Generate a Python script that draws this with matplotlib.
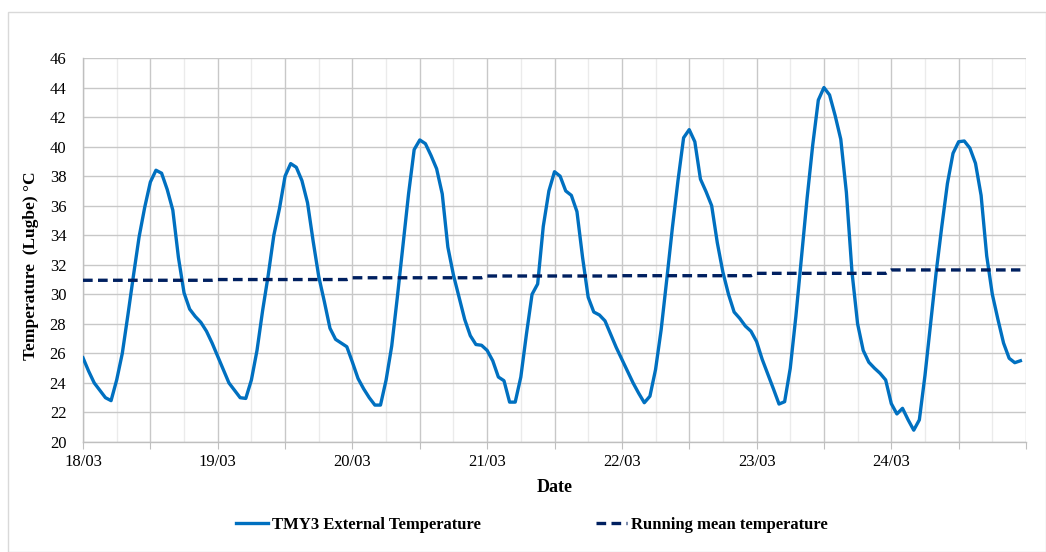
import numpy as np
import matplotlib
matplotlib.use("Agg")
import matplotlib.pyplot as plt
from matplotlib.patches import Rectangle

# ---- data (hourly, starting 18/03 00:00) ----
day_labels = ["18/03", "19/03", "20/03", "21/03", "22/03", "23/03", "24/03"]

tmy3_temp = [
    # 18/03
    25.7, 24.8, 24.0, 23.5, 23.0, 22.8, 24.2, 26.0, 28.6, 31.3, 33.9, 35.9,
    37.6, 38.4, 38.2, 37.1, 35.7, 32.5, 30.1, 29.0, 28.5, 28.1, 27.5, 26.7,
    # 19/03
    25.8, 24.9, 24.0, 23.5, 23.0, 22.95, 24.2, 26.2, 28.9, 31.3, 34.0, 35.8,
    38.0, 38.85, 38.6, 37.7, 36.2, 33.6, 31.2, 29.5, 27.7, 26.95, 26.7, 26.45,
    # 20/03
    25.4, 24.3, 23.6, 23.0, 22.5, 22.5, 24.2, 26.5, 29.8, 33.3, 36.8, 39.8,
    40.45, 40.2, 39.4, 38.5, 36.8, 33.2, 31.3, 29.8, 28.3, 27.2, 26.6, 26.55,
    # 21/03
    26.2, 25.5, 24.4, 24.15, 22.7, 22.7, 24.4, 27.3, 30.0, 30.7, 34.6, 37.0,
    38.3, 38.0, 37.0, 36.7, 35.6, 32.5, 29.8, 28.8, 28.6, 28.2, 27.3, 26.4,
    # 22/03
    25.6, 24.8, 24.0, 23.3, 22.66, 23.1, 24.9, 27.6, 31.0, 34.5, 37.7, 40.6,
    41.15, 40.33, 37.8, 36.95, 36.0, 33.5, 31.5, 30.0, 28.8, 28.37, 27.85, 27.5,
    # 23/03
    26.8, 25.6, 24.6, 23.6, 22.57, 22.73, 24.99, 28.5, 32.5, 36.5, 40.1, 43.15,
    44.0, 43.5, 42.1, 40.5, 36.9, 31.5, 28.0, 26.2, 25.4, 25.0, 24.65, 24.2,
    # 24/03
    22.6, 21.9, 22.28, 21.5, 20.8, 21.5, 24.5, 28.0, 31.5, 34.6, 37.5, 39.55,
    40.33, 40.38, 39.9, 38.87, 36.7, 32.6, 30.0, 28.3, 26.7, 25.67, 25.37, 25.5,
]

daily_running_mean = [30.95, 31.0, 31.12, 31.24, 31.26, 31.42, 31.65]

hours = np.arange(len(tmy3_temp))
running_mean = np.repeat(daily_running_mean, 24)

# ---- figure ----
plt.rcParams['font.family'] = ['Liberation Serif', 'DejaVu Serif']
fig = plt.figure(figsize=(10.46, 5.52), dpi=100)
W, H = 1046, 552
ax = fig.add_axes([83 / W, 1 - 442 / H, (1026 - 83) / W, (442 - 58) / H])

# outer chart border
fig.patches.append(Rectangle((8 / W, 0.0 / H), (1046 - 8) / W, (552 - 12) / H,
                             transform=fig.transFigure, fill=False,
                             edgecolor='#D9D9D9', linewidth=1.0))

blue = '#0070C0'
navy = '#002060'

ax.plot(hours, tmy3_temp, color=blue, linewidth=2.4, solid_joinstyle='round',
        label='TMY3 External Temperature', zorder=3)
ax.plot(hours, running_mean, color=navy, linewidth=2.4, linestyle=(0, (2.9, 1.6)),
        label='Running mean temperature', zorder=3)

ax.set_xlim(0, 168)
ax.set_ylim(20, 46)
ax.set_yticks(np.arange(20, 47, 2))
ax.set_xticks(np.arange(0, 169, 12))
ax.set_xticklabels([day_labels[i // 24] if (i % 24 == 0 and i // 24 < len(day_labels)) else ''
                    for i in range(0, 169, 12)])
ax.set_xticks(np.arange(6, 168, 12), minor=True)

ax.grid(True, which='major', axis='both', color='#C8C8C8', linewidth=1.0, zorder=0)
ax.grid(True, which='minor', axis='x', color='#EBEBEB', linewidth=1.0, zorder=0)

for s in ['top', 'right']:
    ax.spines[s].set_visible(False)
for s in ['left', 'bottom']:
    ax.spines[s].set_color('#BFBFBF')
    ax.spines[s].set_linewidth(1.0)

ax.tick_params(axis='x', which='major', length=5, color='#BFBFBF', labelsize=12, pad=4)
ax.tick_params(axis='x', which='minor', length=0)
ax.tick_params(axis='y', length=0, labelsize=12, pad=12)

ax.set_xlabel('Date', fontsize=13, fontweight='bold', labelpad=6)
ax.set_ylabel('Temperature  (Lugbe) \u00b0C', fontsize=12.5, fontweight='bold')
ax.yaxis.set_label_coords((39 - 83) / 943, (442 - 266) / 384)

leg = fig.legend(loc='center', bbox_to_anchor=(532 / W, 1 - 525 / H), ncol=2,
                 frameon=False, handlelength=1.9, columnspacing=6.9,
                 prop={'weight': 'bold', 'size': 12}, handletextpad=0.25)

fig.savefig('out.png', dpi=100)
